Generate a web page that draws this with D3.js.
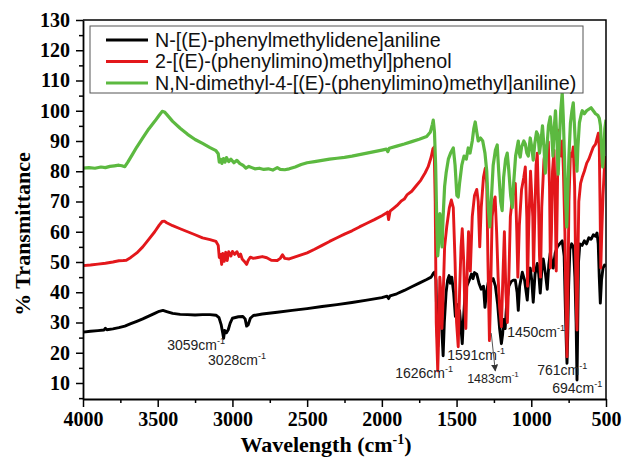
<!DOCTYPE html>
<html>
<head>
<meta charset="utf-8">
<script src="https://cdn.jsdelivr.net/npm/d3@7"></script>
<style>
  body { margin: 0; background: #fff; }
  svg { display: block; }
</style>
</head>
<body>
<div id="chart"></div>
<script>
// 图例名称
const seriesNames = [
  "N-[(E)-phenylmethylidene]aniline",
  "2-[(E)-(phenylimino)methyl]phenol",
  "N,N-dimethyl-4-[(E)-(phenylimino)methyl]aniline)"
];

// 刻度
const xTickValues = [4000, 3500, 3000, 2500, 2000, 1500, 1000, 500];
const yTickValues = [10, 20, 30, 40, 50, 60, 70, 80, 90, 100, 110, 120, 130];

// 光谱数据 [波数, %T]
const blackSpectrum = [
  [4000,26.8],[3950,27.1],[3900,27.3],[3860,27.5],[3850,28.1],[3840,27.6],[3800,27.9],[3760,28.3],[3720,28.8],
  [3680,29.6],[3640,30.4],[3600,31.2],[3560,32.1],[3520,33.0],[3490,33.7],[3465,34.0],[3440,33.6],[3400,33.0],
  [3350,32.7],[3300,32.6],[3250,32.5],[3200,32.6],[3150,32.6],[3110,32.4],[3090,31.6],[3075,29.2],[3065,26.5],
  [3059,24.8],[3052,27.4],[3040,26.6],[3028,27.6],[3015,29.8],[3000,31.4],[2960,31.9],[2930,32.0],[2915,31.2],
  [2905,28.8],[2895,29.2],[2880,31.4],[2860,32.3],[2800,32.8],[2700,33.4],[2600,34.0],[2500,34.6],[2400,35.3],
  [2300,35.9],[2200,36.6],[2100,37.4],[2000,38.2],[1965,38.7],[1955,37.9],[1945,38.8],[1900,39.5],[1850,40.6],
  [1800,41.8],[1750,43.0],[1700,44.2],[1670,45.0],[1655,46.3],[1645,46.7],[1638,44],[1632,30],[1626,22],
  [1618,32],[1608,38],[1598,27],[1590,19],[1582,30],[1570,40],[1560,44],[1550,45.5],[1542,43],[1532,45],
  [1520,40],[1508,32],[1498,36],[1490,30],[1480,34],[1470,28],[1462,23],[1455,30],[1445,38],[1432,42],
  [1415,44],[1400,46],[1390,44.5],[1380,46.5],[1365,46],[1350,43],[1335,41],[1320,42],[1310,35],[1300,40],
  [1285,44],[1270,43.5],[1255,44.5],[1240,42],[1225,36],[1212,28],[1200,23],[1192,26],[1185,31],[1175,28],
  [1165,36],[1150,42],[1135,43.5],[1120,44],[1107,44],[1095,40],[1087,34],[1078,42],[1060,46.6],[1045,44],
  [1027,37.4],[1015,46],[1007,48],[997,44],[987,36.7],[975,46],[960,49.5],[950,46],[940,39.7],[930,47],
  [920,51],[905,46],[893,41],[883,49],[873,53],[863,50],[853,48],[840,53],[826,55],[810,56],[793,57],
  [780,52],[772,35],[765,22],[761,16.5],[756,26],[750,42],[742,54],[730,56],[718,55],[708,45],[700,30],
  [694,11],[689,30],[684,50],[675,56],[660,55.5],[645,57],[630,56],[615,58],[600,57.5],[585,59],[570,58.5],
  [560,59.6],[552,56],[545,45],[538,36.4],[530,44],[520,48],[510,49],[500,48.5]
];

const redSpectrum = [
  [4000,48.8],[3950,49.0],[3900,49.3],[3850,49.6],[3800,50.0],[3760,50.4],[3730,50.5],[3710,50.6],[3680,51.5],
  [3640,53.0],[3600,55.0],[3560,57.5],[3520,60.0],[3490,62.2],[3470,63.4],[3455,63.5],[3440,63.0],[3400,62.0],
  [3350,61.0],[3300,60.0],[3250,59.0],[3200,58.0],[3150,57.4],[3110,56.8],[3095,55.5],[3088,51.5],[3080,52.5],
  [3072,49.2],[3065,52.8],[3055,50.2],[3045,53.2],[3035,50.5],[3025,53.4],[3010,52.0],[3000,53.5],[2985,52.5],
  [2970,53.4],[2955,51.8],[2945,52.6],[2935,51.0],[2920,50.2],[2905,49.2],[2895,50.5],[2880,51.6],[2860,51.2],
  [2830,51.5],[2800,51.8],[2770,51.4],[2740,50.6],[2700,50.5],[2680,51.2],[2665,52.4],[2650,51.2],[2620,51.0],
  [2590,51.5],[2560,52.0],[2500,53.0],[2450,54.2],[2400,55.5],[2350,56.8],[2300,58.0],[2250,59.2],[2200,60.3],
  [2150,61.6],[2100,62.8],[2050,64.0],[2000,65.3],[1975,66.0],[1962,66.5],[1955,64.0],[1945,66.8],[1920,67.8],
  [1900,68.6],[1870,70.2],[1850,70.8],[1830,72.3],[1800,73.4],[1770,75.2],[1740,77.0],[1710,79.5],[1690,81.5],
  [1670,84.7],[1658,87.5],[1650,88.0],[1643,70],[1636,30],[1626,14],[1620,25],[1612,45],[1605,40],[1598,28],
  [1592,35],[1580,55],[1565,62],[1548,68],[1535,70.5],[1522,68],[1510,50],[1500,30],[1489,22],[1480,40],
  [1470,55],[1462,61],[1452,50],[1445,35],[1438,28],[1430,45],[1420,60],[1408,47],[1395,65],[1380,72],
  [1365,74],[1355,70],[1345,55],[1335,68],[1320,78],[1308,81],[1298,76],[1290,50],[1280,24],[1272,40],
  [1262,65],[1250,70],[1242,71.5],[1232,60],[1222,45],[1212,35],[1200,28.6],[1190,45],[1180,60],[1170,40],
  [1160,30],[1150,45],[1140,65],[1125,72],[1107,76],[1097,60],[1090,45],[1080,62],[1065,74],[1050,78],
  [1040,81.4],[1030,65],[1025,42],[1018,60],[1005,80],[990,65],[985,47],[978,62],[968,82],[960,86],[952,70],
  [945,52],[938,45],[930,68],[915,84],[900,88],[886,89.7],[878,75],[872,48],[865,60],[858,80],[848,87],
  [840,70],[833,47],[826,70],[820,93.6],[810,88],[800,85],[792,90],[785,80],[775,60],[768,35],[761,18.7],
  [755,40],[748,70],[738,86],[728,85],[719,88],[710,75],[702,45],[696,30],[694,27.5],[690,45],[682,70],
  [670,76],[659,78],[645,80],[629,82.7],[615,84],[600,86],[585,88],[570,89],[551,92.6],[545,88],[540,70],
  [535,48],[528,60],[520,72],[510,82],[500,85]
];

const greenSpectrum = [
  [4000,81.0],[3960,81.2],[3920,81.0],[3880,81.4],[3850,81.2],[3820,81.6],[3790,81.8],[3760,82.0],[3740,81.8],
  [3720,81.5],[3700,83.0],[3670,85.5],[3640,88.0],[3600,91.0],[3560,94.0],[3520,96.5],[3490,98.5],[3470,99.8],
  [3455,99.6],[3440,98.8],[3400,96.5],[3350,94.2],[3300,92.2],[3250,90.5],[3200,89.2],[3150,87.8],[3110,86.8],
  [3095,85.8],[3088,83.0],[3080,84.0],[3070,82.6],[3060,84.2],[3050,83.0],[3040,84.5],[3025,83.2],[3010,84.0],
  [2990,82.8],[2970,83.6],[2950,82.5],[2930,82.0],[2910,81.0],[2890,81.6],[2870,81.2],[2850,80.8],[2820,81.0],
  [2790,80.6],[2760,80.8],[2730,80.4],[2700,81.2],[2680,80.6],[2650,80.5],[2620,80.8],[2580,81.4],[2540,82.2],
  [2500,82.8],[2450,83.2],[2400,83.6],[2350,84.0],[2300,84.3],[2250,84.6],[2200,85.0],[2150,85.5],[2100,86.0],
  [2050,86.5],[2000,87.0],[1970,87.3],[1960,86.5],[1950,87.6],[1900,88.3],[1850,89.0],[1800,89.8],[1750,90.6],
  [1700,91.5],[1675,93],[1662,95.5],[1656,96.9],[1648,93],[1640,82],[1632,62],[1626,52],[1620,56],[1612,66],
  [1604,62],[1597,55],[1590,65],[1580,75],[1570,79.4],[1555,84],[1540,86],[1522,87.7],[1510,82],[1498,72],
  [1489,71.5],[1480,76],[1465,82],[1450,85],[1435,84],[1422,87.7],[1410,86],[1395,90],[1385,94],[1375,96.3],
  [1365,93],[1355,90],[1340,91],[1325,90],[1310,86],[1298,80],[1288,68],[1278,61.6],[1268,70],[1255,82],
  [1240,87],[1228,88.7],[1218,80],[1205,70],[1195,67],[1185,78],[1172,84],[1161,86],[1150,80],[1138,72],
  [1127,68],[1118,76],[1105,85],[1087,90],[1080,86],[1074,84.7],[1065,88],[1050,90],[1040,89],[1030,86],
  [1020,85],[1007,91],[997,88],[987,83.7],[977,89],[965,93],[955,92],[945,86],[935,90],[925,95],[915,88],
  [906,79.4],[898,86],[885,95],[873,98],[863,92],[855,85],[847,94],[838,100],[828,90],[820,79],[812,90],
  [803,100],[793,105.9],[786,98],[778,85],[770,70],[763,61.6],[756,72],[748,85],[738,96],[728,100],[719,102.6],
  [710,94],[702,86],[694,80],[688,88],[678,96],[665,99],[659,100],[645,99],[630,100],[615,100.5],[600,101],
  [585,100],[570,99],[555,98.5],[545,97.5],[537,95],[530,88],[522,81.4],[515,86],[508,94],[500,97]
];

// 峰标注 [文字, 锚点波数, 锚点%T, 字号]
const peakLabels = [
  ["3059", 3437, 20.9, 14],
  ["3028", 3163, 15.9, 14],
  ["1626", 1911, 11.6, 14],
  ["1591", 1563, 17.6, 14],
  ["1483", 1429, 10.0, 12.5],
  ["1450", 1161, 25.2, 14],
  ["761", 960, 12.6, 14],
  ["694", 860, 6.7, 14]
];
// 箭头 (1483) 起点与终点 [波数, %T]
const arrowFrom = [1268, 26.5], arrowTo = [1241, 14.0];

const width = 622, height = 457;
const margin = { left: 83, right: 16, top: 20, bottom: 58 };
const serif = "'Liberation Serif', 'Times New Roman', serif";
const sans = "'Liberation Sans', Arial, sans-serif";
const colors = ["#000000", "#e3171b", "#5cb940"];

const svg = d3.select("#chart").append("svg")
  .attr("width", width)
  .attr("height", height);

const x = d3.scaleLinear().domain([4000, 500]).range([margin.left, width - margin.right]);
const y = d3.scaleLinear().domain([4.71, 130]).range([height - margin.bottom, margin.top]);

const x0 = x.range()[0], x1 = x.range()[1], y0 = y.range()[0], y1 = y.range()[1];

// 剪裁区
svg.append("clipPath").attr("id", "clip")
  .append("rect")
  .attr("x", x0).attr("y", y1)
  .attr("width", x1 - x0).attr("height", y0 - y1);

// 曲线
const line = d3.line().x(d => x(d[0])).y(d => y(d[1]));
const plot = svg.append("g").attr("clip-path", "url(#clip)");
[blackSpectrum, redSpectrum, greenSpectrum].forEach((data, i) => {
  plot.append("path")
    .datum(data)
    .attr("d", line)
    .attr("fill", "none")
    .attr("stroke", colors[i])
    .attr("stroke-width", i === 2 ? 3.2 : 2.9)
    .attr("stroke-linejoin", "round");
});

// 外框
svg.append("path")
  .attr("d", `M${x0},${y1}H${x1}V${y0}`)
  .attr("fill", "none")
  .attr("stroke", "#000")
  .attr("stroke-width", 1.5);

// 坐标轴
const xAxis = svg.append("g")
  .attr("transform", `translate(0,${y0})`)
  .call(d3.axisBottom(x).tickValues(xTickValues).tickSize(8).tickSizeOuter(0).tickPadding(5).tickFormat(d3.format("d")));
svg.append("g")
  .attr("transform", `translate(0,${y0})`)
  .call(d3.axisBottom(x).tickValues(d3.range(750, 4000, 500)).tickSize(4).tickFormat(""))
  .select(".domain").remove();

const yAxis = svg.append("g")
  .attr("transform", `translate(${x0},0)`)
  .call(d3.axisLeft(y).tickValues(yTickValues).tickSize(7).tickSizeOuter(0).tickPadding(6));
svg.append("g")
  .attr("transform", `translate(${x0},0)`)
  .call(d3.axisLeft(y).tickValues(d3.range(5, 130, 10)).tickSize(4).tickFormat(""))
  .select(".domain").remove();

svg.selectAll(".domain").attr("stroke-width", 1.8);
svg.selectAll(".tick line").attr("stroke-width", 1.5);
[xAxis, yAxis].forEach(a => a.selectAll("text")
  .attr("font-family", serif)
  .attr("font-weight", "bold")
  .attr("font-size", 20)
  .attr("fill", "#000"));

// 轴标题
svg.append("text")
  .attr("transform", `translate(22,234) rotate(-90)`)
  .attr("text-anchor", "middle")
  .attr("dominant-baseline", "central")
  .attr("font-family", serif)
  .attr("font-weight", "bold")
  .attr("font-size", 22)
  .text("% Transmittance");

const xTitle = svg.append("text")
  .attr("x", 326)
  .attr("y", 452)
  .attr("text-anchor", "middle")
  .attr("font-family", serif)
  .attr("font-weight", "bold")
  .attr("font-size", 22);
xTitle.append("tspan").text("Wavelength (cm");
xTitle.append("tspan").attr("dy", -8).attr("font-size", 14).text("-1");
xTitle.append("tspan").attr("dy", 8).text(")");

// 图例
const legend = svg.append("g");
legend.append("rect")
  .attr("x", 90).attr("y", 26)
  .attr("width", 493).attr("height", 67)
  .attr("fill", "#fff")
  .attr("stroke", "#555")
  .attr("stroke-width", 1);
seriesNames.forEach((name, i) => {
  const ly = 40 + i * 21.5;
  legend.append("line")
    .attr("x1", 106).attr("x2", 148)
    .attr("y1", ly).attr("y2", ly)
    .attr("stroke", colors[i])
    .attr("stroke-width", 3);
  legend.append("text")
    .attr("x", 155).attr("y", ly)
    .attr("dy", "0.35em")
    .attr("font-family", sans)
    .attr("font-size", 19.7)
    .attr("fill", "#111")
    .text(name);
});

// 峰标注
peakLabels.forEach(([num, wn, t, fs]) => {
  const tx = svg.append("text")
    .attr("x", x(wn)).attr("y", y(t))
    .attr("font-family", sans)
    .attr("font-size", fs)
    .attr("fill", "#222");
  tx.append("tspan").text(num + "cm");
  tx.append("tspan").attr("dy", -6).attr("font-size", fs * 0.65).text("-1");
});

// 箭头
svg.append("defs").append("marker")
  .attr("id", "arrow")
  .attr("viewBox", "0 0 10 10")
  .attr("refX", 9).attr("refY", 5)
  .attr("markerWidth", 7).attr("markerHeight", 7)
  .attr("orient", "auto")
  .append("path")
  .attr("d", "M0,0L10,5L0,10Z")
  .attr("fill", "#333");
svg.append("line")
  .attr("x1", x(arrowFrom[0])).attr("y1", y(arrowFrom[1]))
  .attr("x2", x(arrowTo[0])).attr("y2", y(arrowTo[1]))
  .attr("stroke", "#555")
  .attr("stroke-width", 1)
  .attr("marker-end", "url(#arrow)");
</script>
</body>
</html>
